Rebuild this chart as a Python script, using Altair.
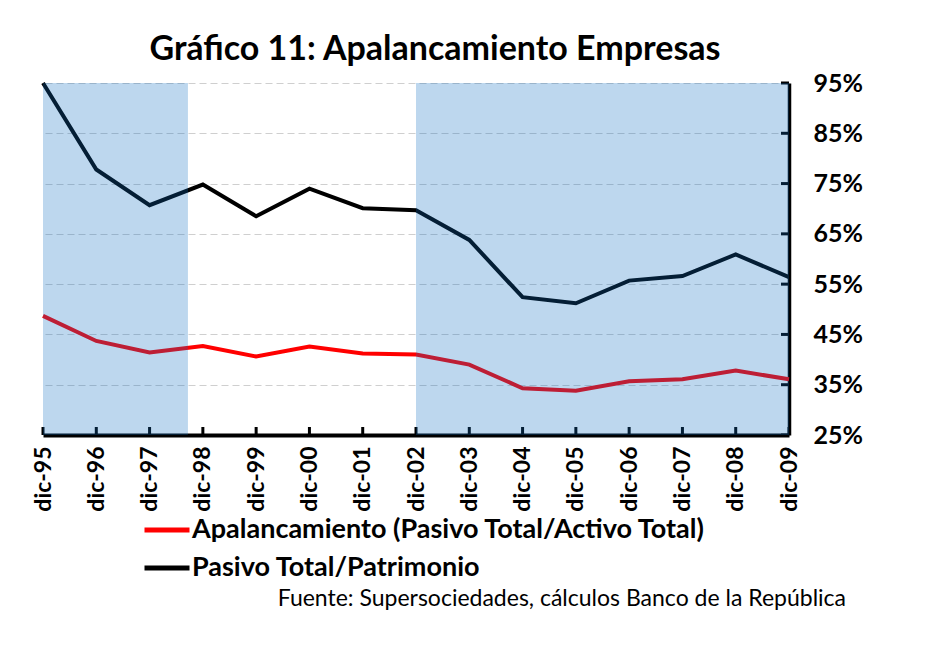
import altair as alt
import pandas as pd

years = list(range(1995, 2010))
pasivo_patrimonio = [95.0, 77.8, 70.7, 74.8, 68.5, 74.0, 70.1, 69.7, 63.8, 52.4, 51.2, 55.7, 56.6, 60.9, 56.4]
apalancamiento = [48.7, 43.7, 41.4, 42.7, 40.6, 42.6, 41.2, 41.0, 39.0, 34.3, 33.8, 35.7, 36.1, 37.8, 36.1]
series_names = ["Apalancamiento (Pasivo Total/Activo Total)", "Pasivo Total/Patrimonio"]
shade_start = [1995, 2002]
shade_end = [1997.72, 2009]
y_ticks = [25, 35, 45, 55, 65, 75, 85, 95]

rows = []
for i, yr in enumerate(years):
    rows.append({"year": yr, "serie": series_names[0], "value": apalancamiento[i]})
    rows.append({"year": yr, "serie": series_names[1], "value": pasivo_patrimonio[i]})
df = pd.DataFrame(rows)
shade_df = pd.DataFrame({"start": shade_start, "end": shade_end})
ytick_df = pd.DataFrame({"v": y_ticks})
xtick_df = pd.DataFrame({"year": years})

FONT = "Lato"
W, H = 746, 352

xscale = alt.Scale(domain=[1995, 2009], nice=False, zero=False)
yscale = alt.Scale(domain=[25, 95], nice=False, zero=False)

x_axis = alt.Axis(
    values=years, labelExpr="'dic-' + slice(toString(datum.value), 2)",
    labelAngle=-90, labelAlign="right", labelBaseline="middle", labelPadding=11,
    labelFont=FONT, labelFontSize=23, labelFontWeight="bold", labelColor="black",
    ticks=False, grid=False, domainColor="black", domainWidth=4, title=None,
)
y_axis = alt.Axis(
    orient="right", values=y_ticks, labelExpr="datum.value + '%'",
    labelFont=FONT, labelFontSize=25, labelFontWeight="bold", labelColor="black",
    labelPadding=24, ticks=False, grid=True, gridColor="#cfcfcf", gridDash=[7, 4],
    gridWidth=1, domainColor="black", domainWidth=3.5, title=None,
)

lines = alt.Chart(df).mark_line(strokeWidth=4).encode(
    x=alt.X("year:Q", scale=xscale, axis=x_axis),
    y=alt.Y("value:Q", scale=yscale, axis=y_axis),
    color=alt.Color(
        "serie:N",
        scale=alt.Scale(domain=series_names, range=["#ff0000", "#000000"]),
        legend=alt.Legend(
            orient="none", legendX=99, legendY=422, title=None,
            symbolType="stroke", symbolSize=2025, symbolStrokeWidth=5,
            labelFont=FONT, labelFontSize=27, labelFontWeight="bold", labelColor="black",
            labelOffset=0, rowPadding=0, labelLimit=800,
        ),
    ),
)

shade = alt.Chart(shade_df).mark_rect(color="#0f6dc1", opacity=0.275).encode(
    x=alt.X("start:Q", scale=xscale),
    x2="end:Q",
    y=alt.value(0),
    y2=alt.value(H),
)

yticks = alt.Chart(ytick_df).mark_rule(color="black", strokeWidth=3, x2Offset=-8).encode(
    y=alt.Y("v:Q", scale=yscale),
    x=alt.datum(2009),
    x2=alt.datum(2009),
)
xticks = alt.Chart(xtick_df).mark_rule(color="black", strokeWidth=3, y2Offset=-8).encode(
    x=alt.X("year:Q", scale=xscale),
    y=alt.datum(25),
    y2=alt.datum(25),
)

fuente = alt.Chart(pd.DataFrame({"t": ["Fuente: Supersociedades, cálculos Banco de la República"]})).mark_text(
    align="right", baseline="alphabetic", font=FONT, fontSize=23, fontWeight="normal", color="black"
).encode(text="t:N", x=alt.value(803), y=alt.value(523))

chart = alt.layer(lines, yticks, xticks, shade, fuente).properties(
    width=W, height=H,
    title=alt.TitleParams(
        "Gráfico 11: Apalancamiento Empresas", font=FONT, fontSize=34, fontWeight="bold",
        color="black", anchor="middle", frame="group", dx=19, offset=4,
    ),
    autosize=alt.AutoSizeParams(type="none"),
    padding={"left": 35, "top": 75, "right": 100, "bottom": 200},
).configure_view(stroke=None)

chart.save("out.html", embed_options={"renderer": "svg", "actions": False})
